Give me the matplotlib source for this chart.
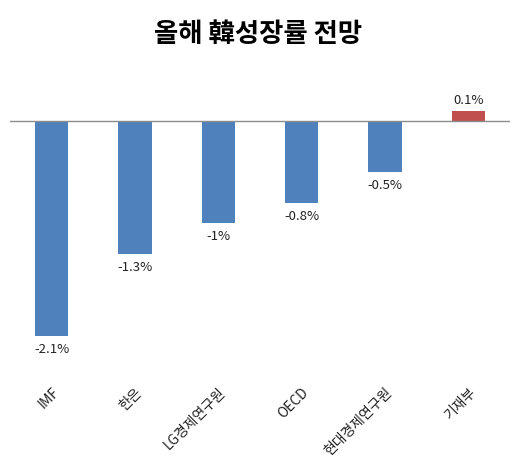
import matplotlib
matplotlib.use('Agg')
import matplotlib.pyplot as plt

plt.rcParams['font.family'] = ['Noto Sans CJK KR', 'DejaVu Sans']

기관 = ['IMF', '한은', 'LG경제연구원', 'OECD', '현대경제연구원', '기재부']
전망 = [-2.1, -1.3, -1.0, -0.8, -0.5, 0.1]
라벨 = ['-2.1%', '-1.3%', '-1%', '-0.8%', '-0.5%', '0.1%']
색 = ['#4F81BD'] * 5 + ['#C0504D']

fig = plt.figure(figsize=(5.17, 4.75), dpi=100)
ax = fig.add_axes([10 / 517, 0.2063, 500 / 517, 0.668])

x = range(len(기관))
bars = ax.bar(x, 전망, width=0.4, color=색, zorder=2)
ax.axhline(0, color='#8c8c8c', linewidth=1, zorder=3)

for b, v, t in zip(bars, 전망, 라벨):
    if v < 0:
        ax.annotate(t, (b.get_x() + b.get_width() / 2, v), xytext=(0, -5),
                    textcoords='offset points', ha='center', va='top', fontsize=9.5, color='#222222')
    else:
        ax.annotate(t, (b.get_x() + b.get_width() / 2, v), xytext=(0, 3),
                    textcoords='offset points', ha='center', va='bottom', fontsize=9.5, color='#222222')

ax.set_xlim(-0.5, 5.5)
ax.set_ylim(-2.5, 0.6)
ax.set_xticks(list(x))
ax.set_xticklabels(기관, rotation=45, ha='right', rotation_mode='anchor', fontsize=10, color='#222222')
ax.tick_params(axis='x', length=0, pad=6)
ax.set_yticks([])
for s in ax.spines.values():
    s.set_visible(False)

fig.text(258 / 517, 1 - 34 / 475, '올해 韓성장률 전망', ha='center', va='center',
         fontsize=19, fontweight='bold')

fig.savefig('out.png', dpi=100)
